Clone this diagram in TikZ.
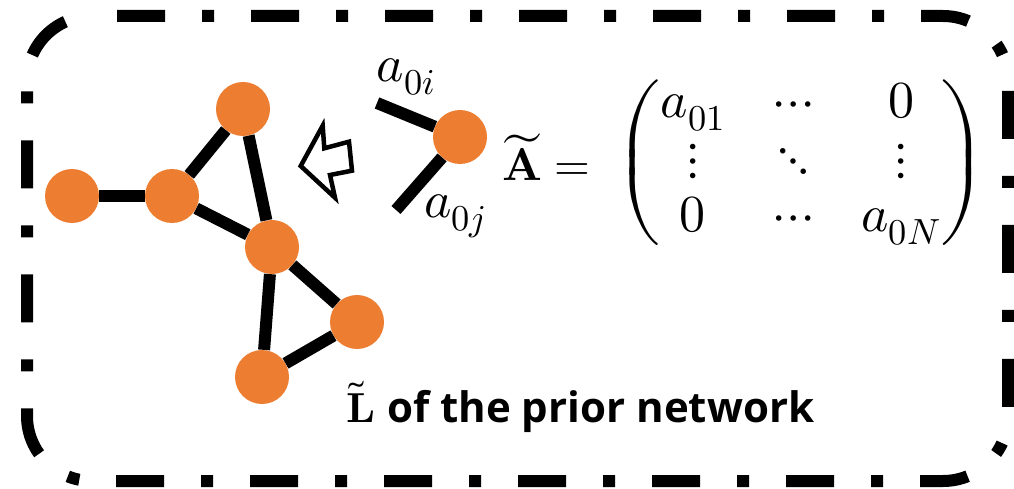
\documentclass[tikz,border=0pt]{standalone}
\usepackage{amsmath}
\usepackage{fontspec}
\usepackage{unicode-math}
\setmathfont{Latin Modern Math}
\newfontfamily\labelfont{Open Sans}
\definecolor{orng}{HTML}{ED7D31}
\begin{document}
\begin{tikzpicture}[x=1pt,y=-1pt,
  vertex/.style={circle, fill=orng, minimum size=54pt, inner sep=0pt},
  link/.style={line width=12pt},
  frame/.style={line width=12pt, dash pattern=on 48pt off 37pt on 12pt off 37pt, dash phase=109pt, rounded corners=65pt},
  hollow/.style={line width=4.5pt, line join=miter, fill=white},
  mathlbl/.style={inner sep=0pt, font=\fontsize{52}{57}\selectfont}]
\useasboundingbox (0,0) rectangle (1014,489);
% border
\draw[frame] (92,16) -- (1008,16) -- (1008,481) -- (27,481) -- (27,16) -- (92,16);
% graph
\node[vertex] (n1) at (72,196) {};
\node[vertex] (n2) at (172,196) {};
\node[vertex] (n3) at (243,109) {};
\node[vertex] (n4) at (272,247) {};
\node[vertex] (n5) at (357,322) {};
\node[vertex] (n6) at (262,377) {};
\draw[link] (n1) -- (n2);
\draw[link] (n2) -- (n3);
\draw[link] (n3) -- (n4);
\draw[link] (n2) -- (n4);
\draw[link] (n4) -- (n5);
\draw[link] (n4) -- (n6);
\draw[link] (n6) -- (n5);
% single node with stubs
\node[vertex] (s) at (460,137) {};
\coordinate (ci) at (377,103);
\coordinate (cj) at (396,210);
\draw[link] (ci) -- (s);
\draw[link] (cj) -- (s);
\node[mathlbl] (lai) at (406,77) {$a_{0i}$};
\node[mathlbl] (laj) at (455,216) {$a_{0j}$};
% hollow arrow
\draw[hollow] (300.7,166) -- (322.7,125.7) -- (324.3,148.3) -- (349,141.7) -- (352,170.7) -- (330,175) -- (335,197.7) -- cycle;
% matrix
\node[inner sep=0pt, anchor=west, font=\fontsize{46}{57}\selectfont] (At) at (502,157)
  {$\widetilde{\symbf{A}}=$};
\node[mathlbl, anchor=west] (M) at (615,163)
  {$\setlength\arraycolsep{24pt}\begin{pmatrix} a_{01} & \cdots & 0\\ \vdots & \ddots & \vdots\\ 0 & \cdots & a_{0N}\end{pmatrix}$};
% label
\node[inner sep=0pt, anchor=base west, font=\fontsize{42}{50}\selectfont] (L) at (346,422)
  {$\tilde{\symbf{L}}$\kern 12pt\labelfont\bfseries of the prior network};
\end{tikzpicture}
\end{document}
